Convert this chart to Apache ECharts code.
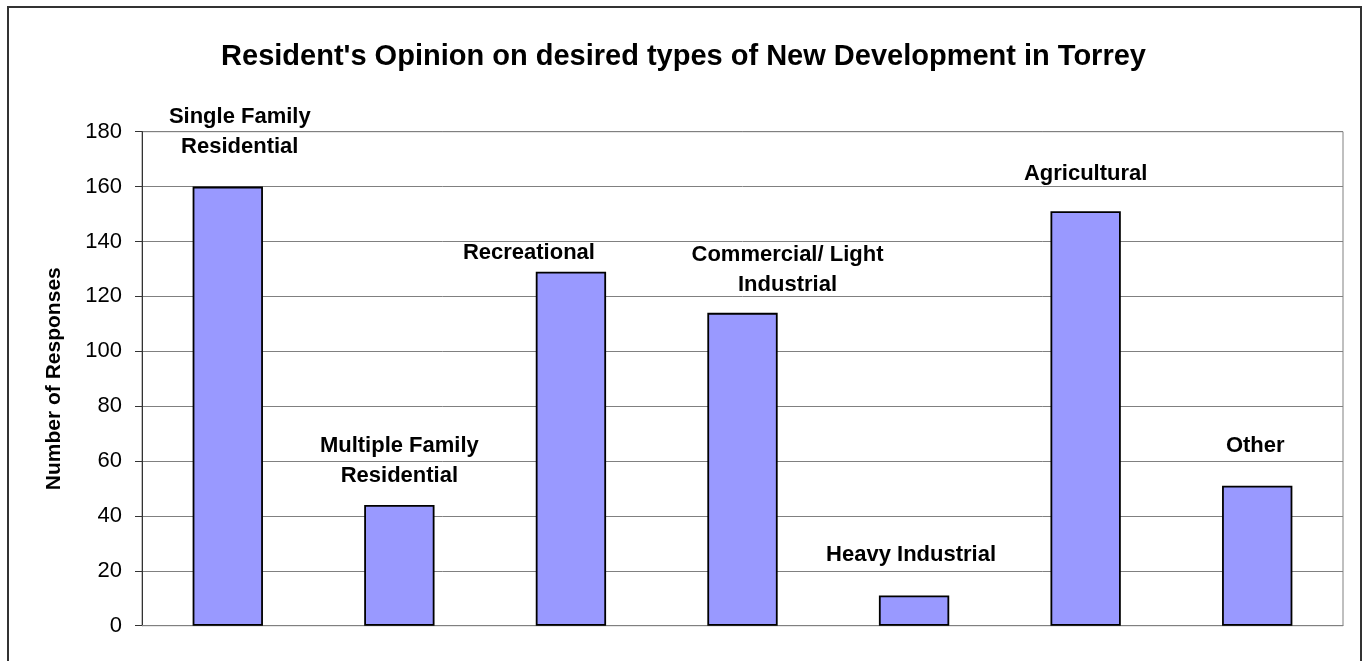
<!DOCTYPE html>
<html>
<head>
<meta charset="utf-8">
<script src="https://cdn.jsdelivr.net/npm/echarts@6/dist/echarts.min.js"></script>
<style>
html,body{margin:0;padding:0;background:#fff;}
#chart{width:1367px;height:661px;}
</style>
</head>
<body>
<div id="chart"></div>
<script>
const titleText = "Resident's Opinion on desired types of New Development in Torrey";
const yAxisName = "Number of Responses";
const categories = [
  "Single Family\nResidential",
  "Multiple Family\nResidential",
  "Recreational",
  "Commercial/ Light\nIndustrial",
  "Heavy Industrial",
  "Agricultural",
  "Other"
];
const responses = [160, 44, 129, 114, 11, 151, 51];
const yMin = 0, yMax = 180, yStep = 20;

// label placement tweaks (style only)
const labelDx = [12, 0, -42, 45, -3, 0, -2];
const labelGap = [25, 14, 4, 13, 26, 22, 25];

const chart = echarts.init(document.getElementById('chart'));
const font = '"Liberation Sans", Arial, sans-serif';

chart.setOption({
  animation: false,
  backgroundColor: '#fff',
  title: {
    text: titleText,
    left: 'center',
    top: 37,
    textStyle: {fontFamily: font, fontWeight: 'bold', fontSize: 29, color: '#000'}
  },
  graphic: [{
    type: 'rect',
    shape: {x: 8, y: 7, width: 1353, height: 700},
    style: {fill: 'none', stroke: '#333', lineWidth: 2},
    silent: true
  }],
  grid: {left: 142, right: 24, top: 131.7, bottom: 35.3, containLabel: false, show: true, borderColor: '#808080', borderWidth: 1, backgroundColor: 'transparent'},
  xAxis: {
    type: 'category',
    data: categories,
    axisLine: {show: true, lineStyle: {color: '#808080', width: 1}},
    axisTick: {show: false},
    axisLabel: {show: false},
    splitLine: {show: false}
  },
  yAxis: {
    type: 'value',
    min: yMin, max: yMax, interval: yStep,
    name: yAxisName,
    nameLocation: 'middle',
    nameGap: 77,
    nameRotate: 90,
    nameTextStyle: {fontFamily: font, fontWeight: 'bold', fontSize: 21, color: '#000'},
    axisLine: {show: true, lineStyle: {color: '#333', width: 1}},
    axisTick: {show: true, inside: false, length: 7, lineStyle: {color: '#333'}},
    axisLabel: {fontFamily: font, fontSize: 22, color: '#000', margin: 20},
    splitLine: {show: true, lineStyle: {color: '#808080', width: 1}}
  },
  series: [{
    type: 'bar',
    barWidth: '41%',
    data: responses.map((v, i) => ({
      value: v,
      label: {offset: [labelDx[i], 0], distance: labelGap[i]}
    })),
    itemStyle: {color: '#9999FF', borderColor: '#000', borderWidth: 1.8},
    label: {
      show: true,
      position: 'top',
      formatter: '{b}',
      fontFamily: font,
      fontWeight: 'bold',
      fontSize: 22,
      lineHeight: 30,
      color: '#000',
      align: 'center'
    }
  }]
});
</script>
</body>
</html>
